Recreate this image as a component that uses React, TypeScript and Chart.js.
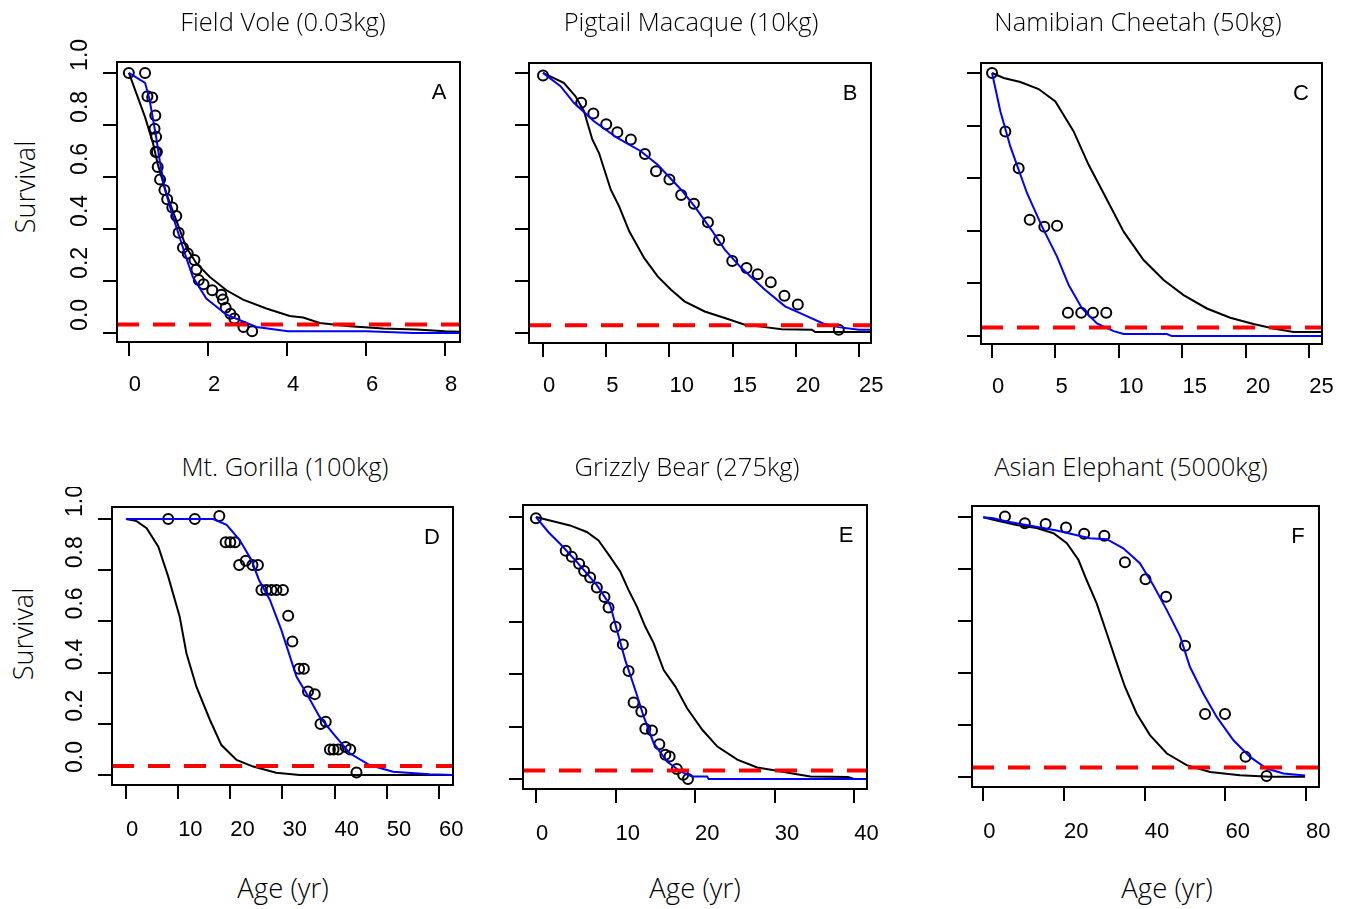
import React, { useEffect, useRef } from "react";
import { Chart, registerables } from "chart.js";

Chart.register(...registerables);

// ---------- DATA ----------
const panelTitles = [
  "Field Vole (0.03kg)",
  "Pigtail Macaque (10kg)",
  "Namibian Cheetah (50kg)",
  "Mt. Gorilla (100kg)",
  "Grizzly Bear (275kg)",
  "Asian Elephant (5000kg)",
];
const panelLetters = ["A", "B", "C", "D", "E", "F"];
const yAxisLabel = "Survival";
const xAxisLabel = "Age (yr)";

const yTickValues = [0, 0.2, 0.4, 0.6, 0.8, 1.0];
const xTicksVole = [0, 2, 4, 6, 8];
const xTicksMacaque = [0, 5, 10, 15, 20, 25];
const xTicksCheetah = [0, 5, 10, 15, 20, 25];
const xTicksGorilla = [0, 10, 20, 30, 40, 50, 60];
const xTicksBear = [0, 10, 20, 30, 40];
const xTicksElephant = [0, 20, 40, 60, 80];

const xRangeVole = [-0.3, 8.38];
const xRangeMacaque = [-1.11, 25.95];
const xRangeCheetah = [-0.87, 26.0];
const xRangeGorilla = [-2.68, 62.7];
const xRangeBear = [-1.63, 41.6];
const xRangeElephant = [-2.8, 83.2];

const yRangeVole = [-0.035, 1.042];
const yRangeMacaque = [-0.038, 1.038];
const yRangeCheetah = [-0.03, 1.038];
const yRangeGorilla = [-0.039, 1.047];
const yRangeBear = [-0.038, 1.046];
const yRangeElephant = [-0.039, 1.043];

// red dashed threshold level per panel
const thresholdLevels = [0.032, 0.03, 0.033, 0.035, 0.033, 0.036];

// observed survival (circles)
const voleObs = [
  [0, 1.0], [0.41, 1.0], [0.47, 0.91], [0.59, 0.905], [0.67, 0.836], [0.65, 0.785],
  [0.69, 0.754], [0.68, 0.696], [0.71, 0.696], [0.73, 0.638], [0.79, 0.59], [0.9, 0.55],
  [0.97, 0.514], [1.1, 0.482], [1.2, 0.45], [1.26, 0.385], [1.37, 0.328], [1.49, 0.305],
  [1.66, 0.28], [1.71, 0.244], [1.77, 0.203], [1.89, 0.187], [2.11, 0.164], [2.34, 0.147],
  [2.38, 0.128], [2.45, 0.097], [2.57, 0.074], [2.67, 0.055], [2.9, 0.023], [3.12, 0.006],
];
const macaqueObs = [
  [0, 0.99], [3.02, 0.885], [3.98, 0.844], [5.0, 0.803], [5.88, 0.772], [6.95, 0.744],
  [8.06, 0.688], [8.94, 0.622], [10.0, 0.59], [10.93, 0.531], [11.94, 0.497], [13.05, 0.426],
  [13.93, 0.358], [14.97, 0.277], [16.1, 0.25], [16.98, 0.226], [18.02, 0.195], [19.1, 0.144],
  [20.16, 0.11], [23.4, 0.013],
];
const cheetahObs = [
  [0, 1.0], [1.05, 0.778], [2.1, 0.638], [2.97, 0.442], [4.12, 0.416], [5.12, 0.419],
  [5.98, 0.089], [7.03, 0.089], [7.95, 0.089], [9.0, 0.089],
];
const gorillaObs = [
  [8.1, 1.0], [13.2, 1.0], [17.9, 1.012], [19.1, 0.909], [20.0, 0.909], [20.9, 0.909],
  [21.7, 0.82], [22.97, 0.837], [24.25, 0.82], [25.3, 0.82], [25.97, 0.723], [26.9, 0.723],
  [27.9, 0.723], [28.85, 0.723], [30.1, 0.723], [31.1, 0.622], [31.9, 0.522], [33.2, 0.415],
  [34.1, 0.415], [34.9, 0.326], [36.2, 0.316], [37.3, 0.199], [38.3, 0.208], [39.1, 0.1],
  [39.8, 0.1], [40.7, 0.1], [42.1, 0.109], [43.0, 0.1], [44.2, 0.01],
];
const bearObs = [
  [0, 0.995], [3.74, 0.871], [4.5, 0.848], [5.42, 0.822], [6.05, 0.794], [6.81, 0.769],
  [7.65, 0.731], [8.61, 0.695], [9.12, 0.655], [10.0, 0.581], [10.92, 0.514], [11.64, 0.412],
  [12.27, 0.292], [13.24, 0.258], [13.74, 0.192], [14.58, 0.185], [15.5, 0.133], [16.26, 0.093],
  [16.8, 0.086], [17.7, 0.038], [18.5, 0.016], [19.1, 0.0],
];
const elephantObs = [
  [5.37, 1.003], [10.3, 0.977], [15.45, 0.974], [20.5, 0.96], [25.0, 0.936], [30.0, 0.928],
  [35.1, 0.826], [40.2, 0.761], [45.3, 0.694], [50.0, 0.505], [54.96, 0.242], [59.9, 0.242],
  [65.0, 0.077], [70.2, 0.003],
];

// black reference curves
const voleRef = [
  [0, 1.0], [0.41, 0.83], [0.61, 0.73], [0.73, 0.65], [0.95, 0.536], [1.2, 0.433],
  [1.45, 0.33], [1.71, 0.267], [2.05, 0.215], [2.47, 0.164], [2.89, 0.128], [3.48, 0.094],
  [4.07, 0.065], [4.41, 0.059], [4.83, 0.038], [5.59, 0.026], [6.44, 0.017], [7.28, 0.013],
  [8.0, 0.006], [8.38, 0.004],
];
const macaqueRef = [
  [0, 1.0], [1.64, 0.962], [2.57, 0.91], [3.24, 0.853], [3.9, 0.744], [4.43, 0.692],
  [5.36, 0.551], [6.02, 0.487], [6.82, 0.391], [8.01, 0.288], [9.07, 0.218], [10.13, 0.167],
  [11.19, 0.122], [12.79, 0.083], [14.38, 0.058], [15.97, 0.032], [17.56, 0.023], [18.89, 0.015],
  [21.27, 0.013], [21.54, 0.004], [25.95, 0.004],
];
const cheetahRef = [
  [0, 1.0], [0.92, 0.981], [2.23, 0.966], [3.67, 0.939], [4.99, 0.892], [6.43, 0.778],
  [7.61, 0.651], [8.79, 0.543], [10.37, 0.397], [11.94, 0.289], [13.52, 0.213], [15.09, 0.156],
  [16.93, 0.105], [18.77, 0.07], [20.6, 0.046], [22.18, 0.029], [23.75, 0.016], [26.0, 0.016],
];
const gorillaRef = [
  [0, 1.0], [2.04, 0.992], [3.96, 0.964], [6.2, 0.892], [8.1, 0.775], [10.3, 0.618],
  [11.6, 0.475], [13.5, 0.345], [16.1, 0.215], [18.3, 0.117], [21.2, 0.059], [24.4, 0.033],
  [28.8, 0.009], [33.3, 0.0], [62.7, 0.0],
];
const bearRef = [
  [0, 1.0], [1.76, 0.987], [4.28, 0.968], [6.39, 0.943], [7.86, 0.911], [9.33, 0.848],
  [10.6, 0.791], [11.64, 0.721], [12.7, 0.657], [13.74, 0.581], [14.8, 0.518], [16.05, 0.416],
  [17.52, 0.353], [18.99, 0.27], [20.9, 0.188], [22.8, 0.124], [25.3, 0.074], [27.8, 0.044],
  [30.3, 0.032], [32.4, 0.02], [34.5, 0.01], [39.2, 0.008], [40.0, 0.0], [41.6, 0.0],
];
const elephantRef = [
  [0, 1.0], [2.48, 0.99], [8.26, 0.97], [13.2, 0.958], [17.4, 0.938], [20.7, 0.9],
  [23.6, 0.835], [25.6, 0.758], [28.1, 0.668], [30.6, 0.553], [33.1, 0.437], [35.1, 0.347],
  [38.0, 0.244], [41.3, 0.161], [45.5, 0.09], [50.4, 0.045], [56.2, 0.019], [63.6, 0.006],
  [71.1, 0.0], [79.75, 0.0],
];

// blue fitted curves
const voleFit = [
  [0, 1.0], [0.41, 0.962], [0.52, 0.9], [0.61, 0.823], [0.69, 0.754], [0.78, 0.664],
  [0.9, 0.56], [1.07, 0.47], [1.28, 0.37], [1.45, 0.29], [1.62, 0.215], [1.96, 0.132],
  [2.47, 0.07], [3.23, 0.023], [4.03, 0.006], [6.01, 0.006], [7.2, 0.0], [8.38, 0.0],
];
const macaqueFit = [
  [0, 1.0], [1.38, 0.949], [2.44, 0.885], [4.03, 0.814], [5.88, 0.75], [7.74, 0.699],
  [9.07, 0.647], [10.93, 0.551], [11.99, 0.487], [13.32, 0.397], [14.38, 0.321], [15.7, 0.25],
  [17.56, 0.167], [19.15, 0.103], [20.74, 0.068], [22.2, 0.036], [23.4, 0.023], [24.99, 0.013],
  [25.95, 0.013],
];
const cheetahFit = [
  [0, 1.0], [0.66, 0.854], [1.44, 0.721], [2.76, 0.543], [3.94, 0.416], [5.12, 0.302],
  [6.04, 0.194], [7.09, 0.105], [8.27, 0.048], [9.58, 0.019], [10.37, 0.008], [13.78, 0.008],
  [14.17, 0.0], [26.0, 0.0],
];
const gorillaFit = [
  [0, 1.0], [16.7, 1.0], [19.3, 0.977], [21.8, 0.918], [24.05, 0.84], [25.5, 0.762],
  [27.6, 0.684], [29.8, 0.566], [32.7, 0.384], [34.6, 0.319], [37.1, 0.228], [39.7, 0.163],
  [42.9, 0.085], [46.7, 0.039], [51.2, 0.013], [58.2, 0.003], [62.7, 0.0],
];
const bearFit = [
  [0, 1.0], [1.55, 0.943], [3.03, 0.898], [5.13, 0.829], [7.65, 0.74], [9.33, 0.664],
  [10.17, 0.569], [11.22, 0.454], [12.48, 0.34], [13.53, 0.239], [14.79, 0.137], [16.47, 0.067],
  [18.15, 0.029], [19.6, 0.01], [21.5, 0.01], [21.7, 0.0], [41.6, 0.0],
];
const elephantFit = [
  [0, 1.0], [2.48, 0.996], [5.79, 0.983], [10.7, 0.97], [18.2, 0.949], [26.4, 0.919],
  [30.6, 0.915], [34.7, 0.88], [38.8, 0.823], [42.1, 0.739], [45.45, 0.643], [48.8, 0.54],
  [51.2, 0.424], [54.5, 0.321], [57.85, 0.231], [62.0, 0.141], [66.1, 0.077], [70.2, 0.032],
  [74.4, 0.013], [79.75, 0.005],
];

// ---------- LAYOUT ----------
const TICK_FONT = "'Liberation Sans', Arial, sans-serif";
const TEXT_FONT = "'Open Sans', 'Noto Sans', sans-serif";
const LW = 60; // y-axis area width
const PR = 20; // right padding
const BH = 60; // x-axis area height

const boxes = [
  { l: 117, t: 62, r: 460, b: 342 },
  { l: 529, t: 63, r: 871, b: 343 },
  { l: 981, t: 63, r: 1322, b: 344 },
  { l: 112, t: 507, r: 453, b: 785 },
  { l: 523, t: 505, r: 867, b: 789 },
  { l: 972, t: 506, r: 1319, b: 787 },
];
const topPads = [30, 30, 30, 20, 20, 20];
const titleCenters = [
  [283, 22], [691, 22], [1138, 22], [285, 467], [687, 467], [1131, 467],
];
const yLabelCenters = [[24, 187], [22, 634]];
const xLabelCenters = [[283, 888], [695, 888], [1167, 888]];

const panels = [
  { obs: voleObs, ref: voleRef, fit: voleFit, xTicks: xTicksVole, xr: xRangeVole, yr: yRangeVole, yLabels: true, xPad: 16 },
  { obs: macaqueObs, ref: macaqueRef, fit: macaqueFit, xTicks: xTicksMacaque, xr: xRangeMacaque, yr: yRangeMacaque, yLabels: false, xPad: 16 },
  { obs: cheetahObs, ref: cheetahRef, fit: cheetahFit, xTicks: xTicksCheetah, xr: xRangeCheetah, yr: yRangeCheetah, yLabels: false, xPad: 16 },
  { obs: gorillaObs, ref: gorillaRef, fit: gorillaFit, xTicks: xTicksGorilla, xr: xRangeGorilla, yr: yRangeGorilla, yLabels: true, xPad: 18 },
  { obs: bearObs, ref: bearRef, fit: bearFit, xTicks: xTicksBear, xr: xRangeBear, yr: yRangeBear, yLabels: false, xPad: 18 },
  { obs: elephantObs, ref: elephantRef, fit: elephantFit, xTicks: xTicksElephant, xr: xRangeElephant, yr: yRangeElephant, yLabels: false, xPad: 18 },
];

const toXY = (arr: number[][]) => arr.map(([x, y]) => ({ x, y }));

function Panel({ idx }: { idx: number }) {
  const ref = useRef<HTMLCanvasElement>(null);
  const p = panels[idx];
  const box = boxes[idx];
  const PT = topPads[idx];
  const W = LW + (box.r - box.l) + PR;
  const H = PT + (box.b - box.t) + BH;

  useEffect(() => {
    const canvas = ref.current;
    if (!canvas) return;
    const letter = panelLetters[idx];
    const level = thresholdLevels[idx];

    const framePlugin = {
      id: "frame" + idx,
      afterDraw(chart: any) {
        const { ctx, chartArea: a } = chart;
        ctx.save();
        ctx.strokeStyle = "#000";
        ctx.lineWidth = 2;
        ctx.strokeRect(a.left, a.top, a.right - a.left, a.bottom - a.top);
        ctx.font = `22px ${TICK_FONT}`;
        ctx.fillStyle = "#000";
        ctx.textAlign = "center";
        ctx.textBaseline = "middle";
        ctx.fillText(letter, a.right - 21, a.top + 31);
        if (p.yLabels) {
          const ys = chart.scales.y;
          ctx.font = `23px ${TICK_FONT}`;
          ctx.textAlign = "center";
          ctx.textBaseline = "alphabetic";
          yTickValues.forEach((v) => {
            const py = ys.getPixelForValue(v);
            ctx.save();
            ctx.translate(a.left - 30, py - 18);
            ctx.rotate(-Math.PI / 2);
            ctx.fillText(v.toFixed(1), 0, 0);
            ctx.restore();
          });
        }
        ctx.restore();
      },
    };

    const chart = new Chart(canvas, {
      type: "scatter",
      data: {
        datasets: [
          {
            label: "threshold",
            data: [{ x: p.xr[0], y: level }, { x: p.xr[1], y: level }],
            showLine: true,
            borderColor: "#ff0000",
            borderWidth: 4,
            borderDash: [22, 14],
            pointRadius: 0,
            order: 0,
          },
          {
            label: "fit",
            data: toXY(p.fit),
            showLine: true,
            borderColor: "#0000ff",
            borderWidth: 2,
            pointRadius: 0,
            order: 1,
          },
          {
            label: "observed",
            data: toXY(p.obs),
            showLine: false,
            pointRadius: 5,
            pointBorderWidth: 2,
            pointBorderColor: "#000",
            pointBackgroundColor: "rgba(0,0,0,0)",
            order: 2,
          },
          {
            label: "reference",
            data: toXY(p.ref),
            showLine: true,
            borderColor: "#000",
            borderWidth: 2,
            pointRadius: 0,
            order: 3,
          },
        ],
      } as any,
      options: {
        animation: false,
        responsive: false,
        events: [],
        layout: { padding: { top: PT, right: PR, left: 0, bottom: 0 } },
        plugins: {
          legend: { display: false },
          tooltip: { enabled: false },
          title: { display: false },
        },
        scales: {
          x: {
            type: "linear",
            min: p.xr[0],
            max: p.xr[1],
            afterBuildTicks: (s: any) => {
              s.ticks = p.xTicks.map((v) => ({ value: v }));
            },
            afterFit: (s: any) => {
              s.height = BH;
              s.paddingLeft = 0;
              s.paddingRight = 0;
            },
            ticks: {
              font: { family: TICK_FONT, size: 22 },
              color: "#000",
              align: "start",
              padding: p.xPad,
              maxRotation: 0,
              minRotation: 0,
              autoSkip: false,
              callback: (v: any) => String(v),
            },
            grid: {
              drawOnChartArea: false,
              drawTicks: true,
              tickLength: 14,
              color: "#000",
              lineWidth: 2,
            },
            border: { display: false },
          },
          y: {
            type: "linear",
            min: p.yr[0],
            max: p.yr[1],
            afterBuildTicks: (s: any) => {
              s.ticks = yTickValues.map((v) => ({ value: v }));
            },
            afterFit: (s: any) => {
              s.width = LW;
              s.paddingTop = 0;
              s.paddingBottom = 0;
            },
            ticks: { display: false },
            grid: {
              drawOnChartArea: false,
              drawTicks: true,
              tickLength: 14,
              color: "#000",
              lineWidth: 2,
            },
            border: { display: false },
          },
        },
      } as any,
      plugins: [framePlugin],
    });
    return () => chart.destroy();
  }, []);

  return (
    <canvas
      ref={ref}
      width={W}
      height={H}
      style={{ position: "absolute", left: box.l - LW, top: box.t - PT, width: W, height: H }}
    />
  );
}

const textStyle = (x: number, y: number, size: number, rotate = false): React.CSSProperties => ({
  position: "absolute",
  left: x,
  top: y,
  transform: `translate(-50%, -50%)${rotate ? " rotate(-90deg)" : ""}`,
  fontFamily: TEXT_FONT,
  fontSize: size,
  fontWeight: 300,
  lineHeight: 1,
  whiteSpace: "nowrap",
  color: "#000",
});

export default function App() {
  return (
    <div
      style={{
        position: "absolute",
        left: 0,
        top: 0,
        width: 1346,
        height: 909,
        background: "#fff",
        overflow: "hidden",
      }}
    >
      {panels.map((_, i) => (
        <Panel key={i} idx={i} />
      ))}
      {panelTitles.map((t, i) => (
        <div key={"t" + i} style={textStyle(titleCenters[i][0], titleCenters[i][1], 25.5)}>
          {t}
        </div>
      ))}
      {yLabelCenters.map((c, i) => (
        <div key={"y" + i} style={textStyle(c[0], c[1], 27, true)}>
          {yAxisLabel}
        </div>
      ))}
      {xLabelCenters.map((c, i) => (
        <div key={"x" + i} style={textStyle(c[0], c[1], 27.5)}>
          {xAxisLabel}
        </div>
      ))}
    </div>
  );
}
